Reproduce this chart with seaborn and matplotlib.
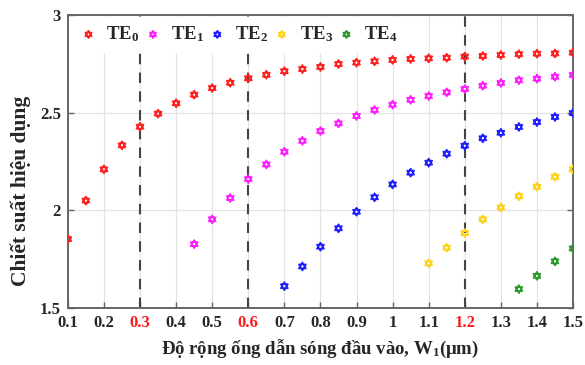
import numpy as np
import pandas as pd
import matplotlib
matplotlib.use("Agg")
import matplotlib.pyplot as plt
import seaborn as sns
from matplotlib.path import Path

# ---- data ----
te0_x = [0.10, 0.15, 0.20, 0.25, 0.30, 0.35, 0.40, 0.45, 0.50, 0.55, 0.60, 0.65, 0.70,
         0.75, 0.80, 0.85, 0.90, 0.95, 1.00, 1.05, 1.10, 1.15, 1.20, 1.25, 1.30, 1.35,
         1.40, 1.45, 1.50]
te0_y = [1.853, 2.050, 2.210, 2.333, 2.428, 2.495, 2.548, 2.592, 2.626, 2.653, 2.676,
         2.694, 2.712, 2.723, 2.734, 2.749, 2.756, 2.763, 2.770, 2.775, 2.778, 2.781,
         2.787, 2.790, 2.795, 2.799, 2.802, 2.803, 2.807]
te1_x = [0.45, 0.50, 0.55, 0.60, 0.65, 0.70, 0.75, 0.80, 0.85, 0.90, 0.95, 1.00, 1.05,
         1.10, 1.15, 1.20, 1.25, 1.30, 1.35, 1.40, 1.45, 1.50]
te1_y = [1.827, 1.954, 2.063, 2.160, 2.235, 2.300, 2.356, 2.406, 2.445, 2.483, 2.514,
         2.541, 2.566, 2.585, 2.604, 2.621, 2.638, 2.652, 2.666, 2.674, 2.684, 2.693]
te2_x = [0.70, 0.75, 0.80, 0.85, 0.90, 0.95, 1.00, 1.05, 1.10, 1.15, 1.20, 1.25, 1.30,
         1.35, 1.40, 1.45, 1.50]
te2_y = [1.612, 1.713, 1.814, 1.908, 1.993, 2.067, 2.133, 2.193, 2.244, 2.290, 2.331,
         2.369, 2.397, 2.427, 2.452, 2.478, 2.498]
te3_x = [1.10, 1.15, 1.20, 1.25, 1.30, 1.35, 1.40, 1.45, 1.50]
te3_y = [1.729, 1.809, 1.884, 1.954, 2.015, 2.072, 2.121, 2.172, 2.210]
te4_x = [1.35, 1.40, 1.45, 1.50]
te4_y = [1.597, 1.665, 1.739, 1.805]

mode_labels = [r"TE$_0$", r"TE$_1$", r"TE$_2$", r"TE$_3$", r"TE$_4$"]
mode_colors = ["#ff2020", "#ff20ff", "#2020ff", "#ffd21a", "#2e9a2e"]
x_ticks = [0.1, 0.2, 0.3, 0.4, 0.5, 0.6, 0.7, 0.8, 0.9, 1.0, 1.1, 1.2, 1.3, 1.4, 1.5]
x_tick_labels = ["0.1", "0.2", "0.3", "0.4", "0.5", "0.6", "0.7", "0.8", "0.9", "1",
                 "1.1", "1.2", "1.3", "1.4", "1.5"]
red_ticks = ["0.3", "0.6", "1.2"]
y_ticks = [1.5, 2.0, 2.5, 3.0]
y_tick_labels = ["1.5", "2", "2.5", "3"]
cutoffs = [0.3, 0.6, 1.2]

series = [(te0_x, te0_y), (te1_x, te1_y), (te2_x, te2_y), (te3_x, te3_y), (te4_x, te4_y)]
frames = []
for lab, (xs, ys) in zip(mode_labels, series):
    frames.append(pd.DataFrame({"w": xs, "neff": ys, "mode": lab}))
df = pd.concat(frames, ignore_index=True)

# ---- style ----
sns.set_theme(style="white")
plt.rcParams["font.family"] = ["Liberation Serif", "DejaVu Serif"]
plt.rcParams["font.weight"] = "bold"
plt.rcParams["mathtext.fontset"] = "custom"
plt.rcParams["mathtext.rm"] = "Liberation Serif:bold"
plt.rcParams["mathtext.it"] = "Liberation Serif:bold"
plt.rcParams["mathtext.bf"] = "Liberation Serif:bold"

# hexagram (Star of David) marker
v_up = [(0, 1), (-0.866, -0.5), (0.866, -0.5), (0, 1)]
v_dn = [(0, -1), (0.866, 0.5), (-0.866, 0.5), (0, -1)]
codes = [Path.MOVETO, Path.LINETO, Path.LINETO, Path.CLOSEPOLY]
hexagram = Path(v_up + v_dn, codes + codes)

fig = plt.figure(figsize=(5.85, 3.65), dpi=100)
ax = fig.add_axes([0.116, 0.156, 0.8635, 0.803])

for lab, col in zip(mode_labels, mode_colors):
    sub = df[df["mode"] == lab]
    sns.scatterplot(data=sub, x="w", y="neff", ax=ax, marker=hexagram, s=34,
                    facecolor="none", edgecolor=col, linewidth=1.2, label=lab,
                    zorder=3)

for c in cutoffs:
    ax.axvline(c, color="#444444", linestyle=(0, (5, 4)), linewidth=1.5, zorder=2)

ax.set_xlim(0.1, 1.5)
ax.set_ylim(1.5, 3.0)
ax.set_xticks(x_ticks)
ax.set_xticklabels(x_tick_labels, fontsize=12, fontweight="bold")
ax.set_yticks(y_ticks)
ax.set_yticklabels(y_tick_labels, fontsize=12, fontweight="bold")
for t in ax.get_xticklabels():
    if t.get_text() in red_ticks:
        t.set_color("#ff1a1a")
ax.grid(True, color="#e3e3e3", linewidth=0.9, zorder=0)
ax.set_axisbelow(True)
ax.tick_params(axis="both", direction="in", length=4, width=1, color="#666666",
               pad=5, top=False, right=True, bottom=True, left=True)
for sp in ax.spines.values():
    sp.set_color("#666666")
    sp.set_linewidth(1.4)

ax.set_xlabel("Độ rộng ống dẫn sóng đầu vào, W$_1$(μm)", fontsize=13.5,
              fontweight="bold", labelpad=5)
ax.set_ylabel("Chiết suất hiệu dụng", fontsize=15.5, fontweight="bold")
ax.yaxis.set_label_coords(-0.072, 0.40)

leg = ax.legend(loc="upper left", ncol=5, frameon=True, fontsize=13.5,
                handletextpad=0.35, columnspacing=0.12, borderaxespad=0.1,
                markerscale=0.9, handlelength=1.2)
leg.get_frame().set_facecolor("white")
leg.get_frame().set_edgecolor("white")
leg.get_frame().set_alpha(1.0)
leg.set_zorder(5)

fig.savefig("out.png", dpi=100)
